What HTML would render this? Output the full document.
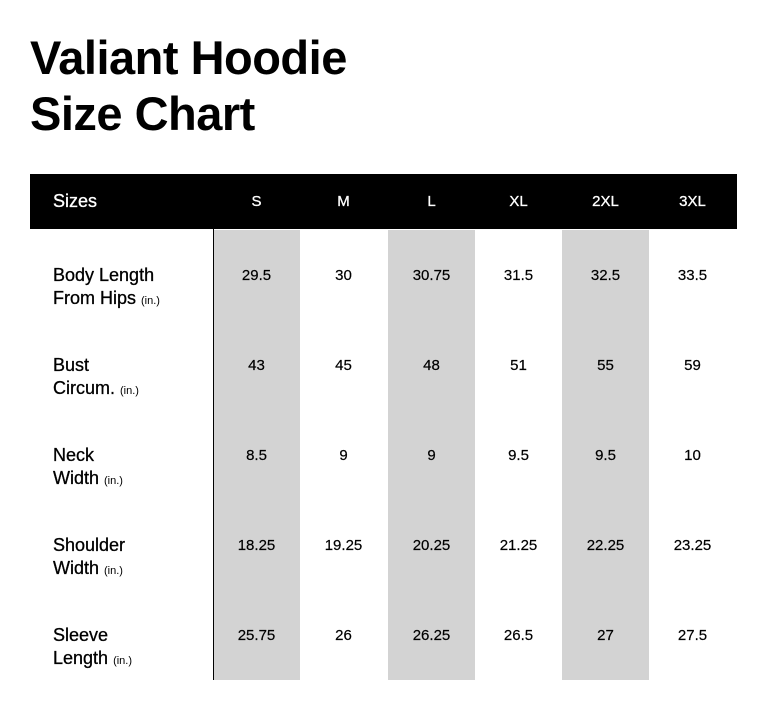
<!DOCTYPE html>
<html><head><meta charset="utf-8"><style>
body{margin:0;width:767px;height:710px;background:#fff;position:relative;font-family:"Liberation Sans",Arial,sans-serif;overflow:hidden}
.t{position:absolute;left:30px;font-weight:bold;font-size:47px;line-height:56px;color:#000;letter-spacing:-0.5px}
.hdr{position:absolute;left:30px;top:174px;width:707px;height:55px;background:#000}
.g{position:absolute;top:230px;height:450px;width:87px;background:#d3d3d3}
.vl{position:absolute;left:213px;top:229px;width:1px;height:451px;background:#000}
.h{position:absolute;top:193px;color:#fff;font-size:15px;width:87px;text-align:center;-webkit-text-stroke:0.3px #fff}
.lab{position:absolute;left:53px;font-size:18px;line-height:23px;color:#000;-webkit-text-stroke:0.3px #000}
.lab small{font-size:11px;-webkit-text-stroke:0}
.v{position:absolute;font-size:15px;width:87px;text-align:center;color:#000;-webkit-text-stroke:0.2px #000}
</style></head><body>
<div class="t" style="top:30px">Valiant Hoodie</div>
<div class="t" style="top:86px">Size Chart</div>
<div class="hdr"></div>
<div class="h" style="left:53px;width:auto;font-size:18px;top:191px">Sizes</div>
<div class="h" style="left:213px">S</div>
<div class="h" style="left:300px">M</div>
<div class="h" style="left:388px">L</div>
<div class="h" style="left:475px">XL</div>
<div class="h" style="left:562px">2XL</div>
<div class="h" style="left:649px">3XL</div>
<div class="g" style="left:214px;width:86px"></div>
<div class="g" style="left:388px"></div>
<div class="g" style="left:562px"></div>
<div class="vl"></div>

<div class="lab" style="top:264px">Body Length<br>From Hips <small>(in.)</small></div>
<div class="lab" style="top:354px">Bust<br>Circum. <small>(in.)</small></div>
<div class="lab" style="top:444px">Neck<br>Width <small>(in.)</small></div>
<div class="lab" style="top:534px">Shoulder<br>Width <small>(in.)</small></div>
<div class="lab" style="top:624px">Sleeve<br>Length <small>(in.)</small></div>

<div class="v" style="left:213px;top:267px">29.5</div><div class="v" style="left:300px;top:267px">30</div><div class="v" style="left:388px;top:267px">30.75</div><div class="v" style="left:475px;top:267px">31.5</div><div class="v" style="left:562px;top:267px">32.5</div><div class="v" style="left:649px;top:267px">33.5</div>
<div class="v" style="left:213px;top:357px">43</div><div class="v" style="left:300px;top:357px">45</div><div class="v" style="left:388px;top:357px">48</div><div class="v" style="left:475px;top:357px">51</div><div class="v" style="left:562px;top:357px">55</div><div class="v" style="left:649px;top:357px">59</div>
<div class="v" style="left:213px;top:447px">8.5</div><div class="v" style="left:300px;top:447px">9</div><div class="v" style="left:388px;top:447px">9</div><div class="v" style="left:475px;top:447px">9.5</div><div class="v" style="left:562px;top:447px">9.5</div><div class="v" style="left:649px;top:447px">10</div>
<div class="v" style="left:213px;top:537px">18.25</div><div class="v" style="left:300px;top:537px">19.25</div><div class="v" style="left:388px;top:537px">20.25</div><div class="v" style="left:475px;top:537px">21.25</div><div class="v" style="left:562px;top:537px">22.25</div><div class="v" style="left:649px;top:537px">23.25</div>
<div class="v" style="left:213px;top:627px">25.75</div><div class="v" style="left:300px;top:627px">26</div><div class="v" style="left:388px;top:627px">26.25</div><div class="v" style="left:475px;top:627px">26.5</div><div class="v" style="left:562px;top:627px">27</div><div class="v" style="left:649px;top:627px">27.5</div>
</body></html>
